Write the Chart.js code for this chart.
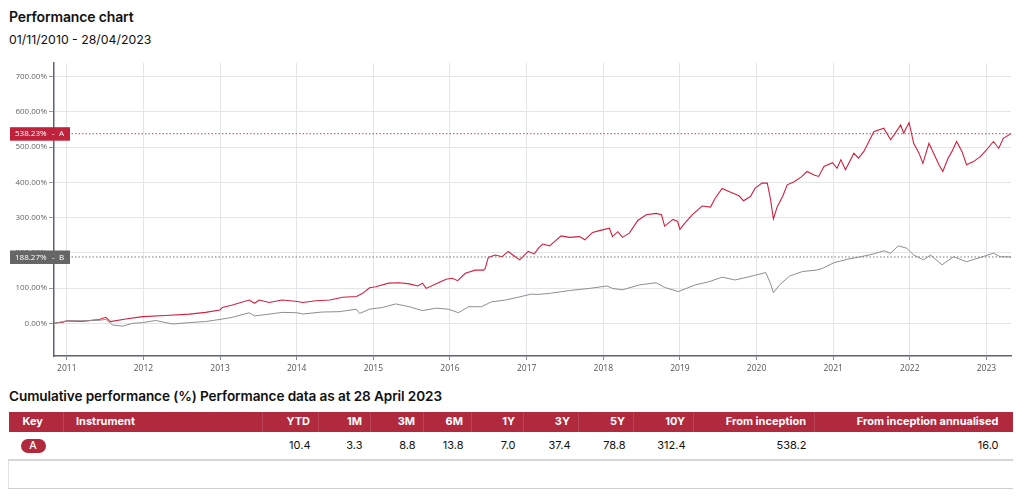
<!DOCTYPE html>
<html>
<head>
<meta charset="utf-8">
<script src="https://cdn.jsdelivr.net/npm/chart.js@4"></script>
<style>
  html, body { margin: 0; padding: 0; background: #fff; width: 1024px; height: 504px; overflow: hidden; font-family: Inter, "Liberation Sans", sans-serif; color: #111; }
  .title { position: absolute; left: 9px; top: 8px; font-size: 14px; font-weight: 600; line-height: 18px; letter-spacing: -0.15px; }
  .sub { position: absolute; left: 9px; top: 32px; font-size: 12.3px; font-weight: 400; line-height: 16px; }
  .wrap { position: absolute; left: 0; top: 55px; width: 1024px; height: 325px; }
  .h2 { position: absolute; left: 9px; top: 387px; font-size: 13.6px; font-weight: 600; line-height: 18px; letter-spacing: -0.1px; }
  table { position: absolute; left: 8px; top: 412px; width: 1004px; border-collapse: collapse; table-layout: fixed; font-size: 11px; }
  th { background: #b0293d; color: #fff; font-weight: 700; height: 19.5px; padding: 0 8px 0 0; text-align: right; border-left: 1px solid rgba(255,255,255,0.13); line-height: 19px; }
  th:first-child { border-left: none; }
  td { height: 27px; padding: 0 8px 0 0; text-align: right; line-height: 27px; }
  .r1 td { border-bottom: 2px solid #d6d6d6; }
  .r2 td { border-bottom: 1px solid #cfcfcf; height: 27px; }
  .r2 td:first-child { border-left: 1px solid #e2e2e2; }
  .l { text-align: left; }
  .badge { display: inline-block; width: 25px; height: 14px; line-height: 14px; border-radius: 7px; background: #b0293d; color: #fff; text-align: center; font-size: 10.5px; font-weight: 500; vertical-align: middle; }
</style>
</head>
<body>
<div class="title">Performance chart</div>
<div class="sub">01/11/2010 - 28/04/2023</div>
<div class="wrap"><canvas id="c"></canvas></div>
<div class="h2">Cumulative performance (%) Performance data as at 28 April 2023</div>
<table>
  <colgroup>
    <col style="width:55px"><col style="width:199px"><col style="width:56px"><col style="width:52px"><col style="width:53px"><col style="width:48px"><col style="width:52px"><col style="width:55px"><col style="width:55px"><col style="width:60px"><col style="width:121px"><col style="width:198px">
  </colgroup>
  <thead><tr id="hdr"></tr></thead>
  <tbody><tr class="r1" id="row1"></tr><tr class="r2" id="row2"></tr></tbody>
</table>
<script>
// ---- data ----
const yearTicks = [2011, 2012, 2013, 2014, 2015, 2016, 2017, 2018, 2019, 2020, 2021, 2022, 2023];
const valueTicks = [0, 100, 200, 300, 400, 500, 600, 700];
const startYear = 2010.833; // 01/11/2010
const endYear = 2023.32;    // 28/04/2023

const redT = [2010.833,2010.95,2011.0,2011.2,2011.42,2011.51,2011.57,2011.77,2011.99,2012.29,2012.6,2012.81,2013.0,2013.03,2013.16,2013.38,2013.45,2013.51,2013.64,2013.81,2014.01,2014.08,2014.25,2014.43,2014.6,2014.78,2014.86,2014.95,2015.03,2015.2,2015.34,2015.47,2015.58,2015.64,2015.69,2015.82,2015.95,2016.03,2016.1,2016.2,2016.33,2016.44,2016.46,2016.5,2016.59,2016.68,2016.76,2016.85,2016.91,2017.02,2017.1,2017.16,2017.21,2017.3,2017.45,2017.56,2017.69,2017.76,2017.86,2017.95,2018.08,2018.12,2018.19,2018.25,2018.34,2018.45,2018.56,2018.69,2018.76,2018.8,2018.91,2018.97,2019.0,2019.07,2019.16,2019.29,2019.4,2019.46,2019.55,2019.64,2019.77,2019.83,2019.92,2019.98,2020.07,2020.14,2020.18,2020.22,2020.27,2020.34,2020.4,2020.49,2020.58,2020.66,2020.75,2020.81,2020.88,2020.99,2021.05,2021.1,2021.16,2021.27,2021.33,2021.4,2021.53,2021.66,2021.75,2021.81,2021.88,2021.92,2021.99,2022.05,2022.12,2022.17,2022.25,2022.31,2022.38,2022.43,2022.5,2022.55,2022.61,2022.68,2022.74,2022.83,2022.92,2023.0,2023.09,2023.16,2023.22,2023.32];
const redV = [0,3,7,5.5,11,17,5,12,19,22,26,31,38,45,52,66,57,66,59,66,62,59,64,66,74,76,85,101,104,114,115,112,106,114,99,112,125,128,121,142,151,151,156,187,194,189,204,189,180,204,197,215,225,220,248,244,246,237,258,263,270,246,260,244,256,292,308,312,308,276,295,289,267,286,308,333,330,355,383,374,362,348,360,383,398,398,355,296,331,360,393,402,415,431,421,417,445,456,440,464,436,483,469,488,544,554,521,540,563,540,570,511,483,454,511,483,450,431,469,488,516,488,450,459,473,492,516,497,525,538.23];

const grayT = [2010.833,2011.0,2011.2,2011.42,2011.51,2011.6,2011.73,2011.86,2011.99,2012.16,2012.38,2012.6,2012.81,2013.0,2013.16,2013.38,2013.45,2013.64,2013.81,2014.0,2014.08,2014.33,2014.55,2014.78,2014.82,2014.95,2015.12,2015.29,2015.47,2015.64,2015.82,2015.98,2016.11,2016.24,2016.41,2016.54,2016.72,2016.89,2017.06,2017.15,2017.3,2017.56,2017.82,2018.05,2018.12,2018.25,2018.47,2018.69,2018.8,2018.98,2019.2,2019.38,2019.55,2019.72,2019.9,2020.12,2020.18,2020.22,2020.3,2020.43,2020.6,2020.78,2020.86,2021.01,2021.19,2021.36,2021.53,2021.66,2021.75,2021.85,2021.96,2022.05,2022.18,2022.27,2022.42,2022.57,2022.74,2022.92,2023.09,2023.18,2023.32];
const grayV = [0,7,7,8.5,11,-5,-8,0,2,8,-2,2,5,11,17,30,21,26,31,30,26.5,32,33,40,28,40,45,55,47,36,43,40,30,47,47,61,66,74,83,82,85,93,99,106,99,95,109,115,102,90,109,118,131,123,132,144,114,87,109,134,147,151,156,172,182,189,197,206,199,220,213,194,180,194,166,189,175,187,199,189,188.27];

const seriesKeys = ['A', 'B'];

const tableHeaders = ['Key', 'Instrument', 'YTD', '1M', '3M', '6M', '1Y', '3Y', '5Y', '10Y', 'From inception', 'From inception annualised'];
const rowA = ['A', '', '10.4', '3.3', '8.8', '13.8', '7.0', '37.4', '78.8', '312.4', '538.2', '16.0'];

// ---- table ----
const hdr = document.getElementById('hdr');
tableHeaders.forEach((h, i) => {
  const th = document.createElement('th');
  th.textContent = h;
  if (i === 0) { th.className = 'l'; th.style.paddingLeft = '14px'; }
  if (i === 1) { th.className = 'l'; th.style.paddingLeft = '12px'; }
  if (i === tableHeaders.length - 1) th.style.paddingRight = '14px';
  hdr.appendChild(th);
});
const row1 = document.getElementById('row1');
rowA.forEach((v, i) => {
  const td = document.createElement('td');
  if (i === 0) { td.className = 'l'; td.style.paddingLeft = '12px'; td.innerHTML = '<span class="badge">' + v + '</span>'; }
  else { td.textContent = v; if (i === 1) td.className = 'l'; }
  if (i === rowA.length - 1) td.style.paddingRight = '14px';
  row1.appendChild(td);
});
const row2 = document.getElementById('row2');
const td2 = document.createElement('td'); td2.colSpan = tableHeaders.length; row2.appendChild(td2);

// ---- chart ----
const RED = '#d0213f';
const GRAY = '#8e8e8e';
const toPts = (t, v) => t.map((x, i) => ({ x: x, y: v[i] }));
const lastRed = redV[redV.length - 1];
const lastGray = grayV[grayV.length - 1];

const endLabels = {
  id: 'endLabels',
  afterDatasetsDraw(chart) {
    const ctx = chart.ctx;
    const ys = chart.scales.y;
    const items = [
      { v: lastRed, key: seriesKeys[0], col: '#c0223c' },
      { v: lastGray, key: seriesKeys[1], col: '#666666' }
    ];
    ctx.save();
    items.forEach(it => {
      const py = ys.getPixelForValue(it.v);
      ctx.fillStyle = it.col;
      ctx.fillRect(10, py - 6.5, 60, 13.5);
      ctx.fillStyle = '#ffffff';
      ctx.font = '8px "Open Sans", sans-serif';
      ctx.textBaseline = 'middle';
      ctx.textAlign = 'left';
      ctx.fillText(it.v.toFixed(2) + '%', 15, py + 0.5);
      ctx.fillText('-', 52, py + 0.5);
      ctx.fillText(it.key, 59, py + 0.5);
    });
    ctx.restore();
  }
};

new Chart(document.getElementById('c'), {
  type: 'line',
  data: {
    datasets: [
      { label: 'B ref', data: [{ x: startYear, y: lastGray }, { x: endYear, y: lastGray }], borderColor: '#777', borderWidth: 1, borderDash: [1.5, 2], pointRadius: 0 },
      { label: 'A ref', data: [{ x: startYear, y: lastRed }, { x: endYear, y: lastRed }], borderColor: '#d33a55', borderWidth: 1, borderDash: [1.5, 2], pointRadius: 0 },
      { label: 'B', data: toPts(grayT, grayV), borderColor: GRAY, borderWidth: 1, pointRadius: 0, tension: 0 },
      { label: 'A', data: toPts(redT, redV), borderColor: RED, borderWidth: 1.1, pointRadius: 0, tension: 0 }
    ]
  },
  options: {
    responsive: true,
    maintainAspectRatio: false,
    animation: false,
    layout: { padding: { top: 8, right: 13, left: 0, bottom: 0 } },
    plugins: { legend: { display: false }, tooltip: { enabled: false } },
    scales: {
      x: {
        type: 'linear',
        min: startYear,
        max: endYear,
        afterBuildTicks: s => { s.ticks = yearTicks.map(v => ({ value: v })); },
        afterFit: s => { s.height = 24; },
        ticks: { autoSkip: false, maxRotation: 0, padding: 3, color: '#555', font: { family: '"Open Sans", sans-serif', size: 8.5 }, callback: v => String(v) },
        grid: { color: '#e2e6ea', lineWidth: 1, tickLength: 4, tickColor: '#888' },
        border: { color: '#5f6275', width: 1.5 }
      },
      y: {
        type: 'linear',
        min: -92.8,
        max: 738.9,
        afterBuildTicks: s => { s.ticks = valueTicks.map(v => ({ value: v })); },
        afterFit: s => { s.width = 54; },
        ticks: { padding: 2, color: '#666', font: { family: '"Open Sans", sans-serif', size: 8 }, callback: v => Number(v).toFixed(2) + '%' },
        grid: { color: '#e2e6ea', lineWidth: 1, tickLength: 5, tickColor: '#999' },
        border: { color: '#5f6275', width: 1.5 }
      }
    }
  },
  plugins: [endLabels]
});
</script>
</body>
</html>
